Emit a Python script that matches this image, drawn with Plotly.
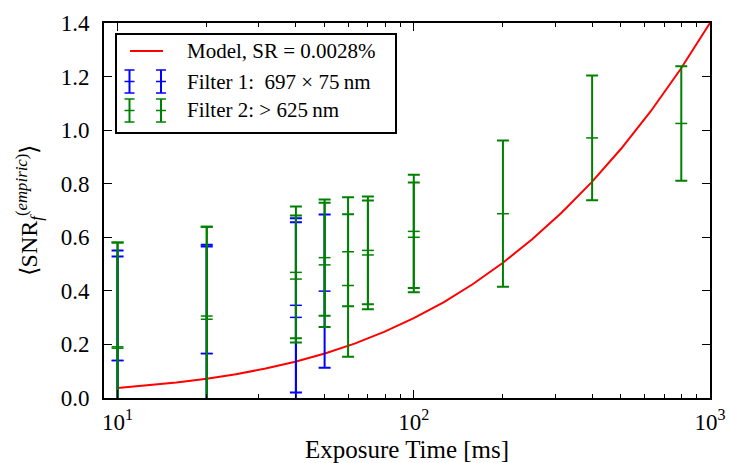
import plotly.graph_objects as go

# ---- data ----
model_t = [10, 12.6, 15.8, 20, 25.1, 31.6, 39.8, 50.1, 63.1, 79.4, 100,
           126, 158, 200, 251, 316, 398, 501, 631, 794, 1000]
model_snr = [0.037, 0.0463, 0.0575, 0.0719, 0.0889, 0.110, 0.1355, 0.1663,
             0.2031, 0.2466, 0.298, 0.3574, 0.4247, 0.505, 0.5925, 0.6926,
             0.8051, 0.9305, 1.0707, 1.2262, 1.400]

f1_t = [10, 10, 20, 20, 40, 40, 50]
f1_snr = [0.140, 0.140, 0.166, 0.166, 0.346, 0.301, 0.399]
f1_err = [0.411, 0.388, 0.406, 0.400, 0.325, 0.355, 0.286]

f2_t = [10, 10, 20, 20, 40, 40, 50, 50, 60, 60, 70, 70, 100, 100, 200, 400, 800]
f2_snr = [0.191, 0.186, 0.306, 0.294, 0.469, 0.444, 0.524, 0.497, 0.546, 0.420,
          0.551, 0.534, 0.622, 0.600, 0.688, 0.971, 1.025]
f2_err = [0.390, 0.395, 0.333, 0.345, 0.246, 0.237, 0.217, 0.232, 0.203, 0.266,
          0.201, 0.203, 0.211, 0.205, 0.273, 0.233, 0.214]

labels = ["Model, SR = 0.0028%",
          "Filter 1:  697 × 75\u2009nm",
          "Filter 2: > 625\u2009nm"]

x_major = [10, 100, 1000]
x_major_text = ["10<sup>1</sup>", "10<sup>2</sup>", "10<sup>3</sup>"]
x_minor = [20, 30, 40, 50, 60, 70, 80, 90, 200, 300, 400, 500, 600, 700, 800, 900]
y_ticks = [0.0, 0.2, 0.4, 0.6, 0.8, 1.0, 1.2, 1.4]
y_text = ["%.1f" % v for v in y_ticks]

RED = "#ff0000"
BLUE = "#0000ff"
GREEN = "#008000"
FONT = "Liberation Serif"

W, H = 729, 463
ML, MR, MT, MB = 104, 19, 23, 65
PW, PH = W - ML - MR, H - MT - MB


def px(x):
    return (x - ML) / PW


def py(y):
    return (H - MB - y) / PH


fig = go.Figure()


def err_trace(t, v, e, color):
    return go.Scatter(
        x=t, y=v, mode="markers", showlegend=False,
        marker=dict(symbol="line-ew", size=8.5, color=color,
                    line=dict(width=1.5, color=color)),
        error_y=dict(type="data", array=e, visible=True, color=color,
                     thickness=2, width=6),
        cliponaxis=True,
    )


fig.add_trace(go.Scatter(x=model_t, y=model_snr, mode="lines", showlegend=False,
                         line=dict(color=RED, width=2)))
fig.add_trace(err_trace(f1_t, f1_snr, f1_err, BLUE))
fig.add_trace(err_trace(f2_t, f2_snr, f2_err, GREEN))

# ---- legend drawn as shapes + annotations ----
shapes = [dict(type="rect", xref="paper", yref="paper",
               x0=px(116), x1=px(396), y0=py(133), y1=py(34),
               line=dict(color="black", width=2), fillcolor="white", layer="above")]
shapes.append(dict(type="line", xref="paper", yref="paper",
                   x0=px(130), x1=px(163), y0=py(51), y1=py(51),
                   line=dict(color=RED, width=2), layer="above"))
for cy, col in [(81.5, BLUE), (110.5, GREEN)]:
    for cx in [129.5, 161]:
        shapes.append(dict(type="line", xref="paper", yref="paper",
                           x0=px(cx), x1=px(cx), y0=py(cy - 11.5), y1=py(cy + 11.5),
                           line=dict(color=col, width=2), layer="above"))
        for yy in [cy - 11.5, cy, cy + 11.5]:
            shapes.append(dict(type="line", xref="paper", yref="paper",
                               x0=px(cx - 5), x1=px(cx + 5), y0=py(yy), y1=py(yy),
                               line=dict(color=col, width=1.5), layer="above"))

annotations = []
for lab, cy in zip(labels, [51, 81.5, 110.5]):
    annotations.append(dict(text=lab, xref="paper", yref="paper",
                            x=px(185), y=py(cy), xanchor="left", yanchor="middle",
                            showarrow=False, font=dict(family=FONT, size=21, color="black")))

fig.update_layout(
    width=W, height=H,
    margin=dict(l=ML, r=MR, t=MT, b=MB, autoexpand=False),
    paper_bgcolor="white", plot_bgcolor="white",
    font=dict(family=FONT, color="black"),
    shapes=shapes, annotations=annotations,
    showlegend=False,
)

fig.update_xaxes(
    type="log", range=[0.9542, 3], automargin=False,
    showgrid=False, zeroline=False,
    showline=True, linecolor="black", linewidth=2, mirror="allticks",
    ticks="inside", ticklen=8, tickwidth=1, tickcolor="black",
    tickvals=x_major, ticktext=x_major_text,
    tickfont=dict(family=FONT, size=23), ticklabelstandoff=2,
    minor=dict(ticks="inside", ticklen=4, tickwidth=1, tickcolor="black",
               tickvals=x_minor, showgrid=False),
    title=dict(text="Exposure Time [ms]", font=dict(family=FONT, size=25), standoff=8),
)
fig.update_yaxes(
    range=[0, 1.4], automargin=False,
    showgrid=False, zeroline=False,
    showline=True, linecolor="black", linewidth=2, mirror="allticks",
    ticks="inside", ticklen=8, tickwidth=1, tickcolor="black",
    tickvals=y_ticks, ticktext=y_text,
    tickfont=dict(family=FONT, size=23), ticklabelstandoff=8,
    title=dict(text="⟨SNR<sub><i>f</i></sub><sup>(<i>empiric</i>)</sup>⟩",
               font=dict(family=FONT, size=24), standoff=16),
)

fig.write_html("out.html",
               config={"displayModeBar": False},
               post_script="document.body.style.margin='0';document.body.style.overflow='hidden';")
